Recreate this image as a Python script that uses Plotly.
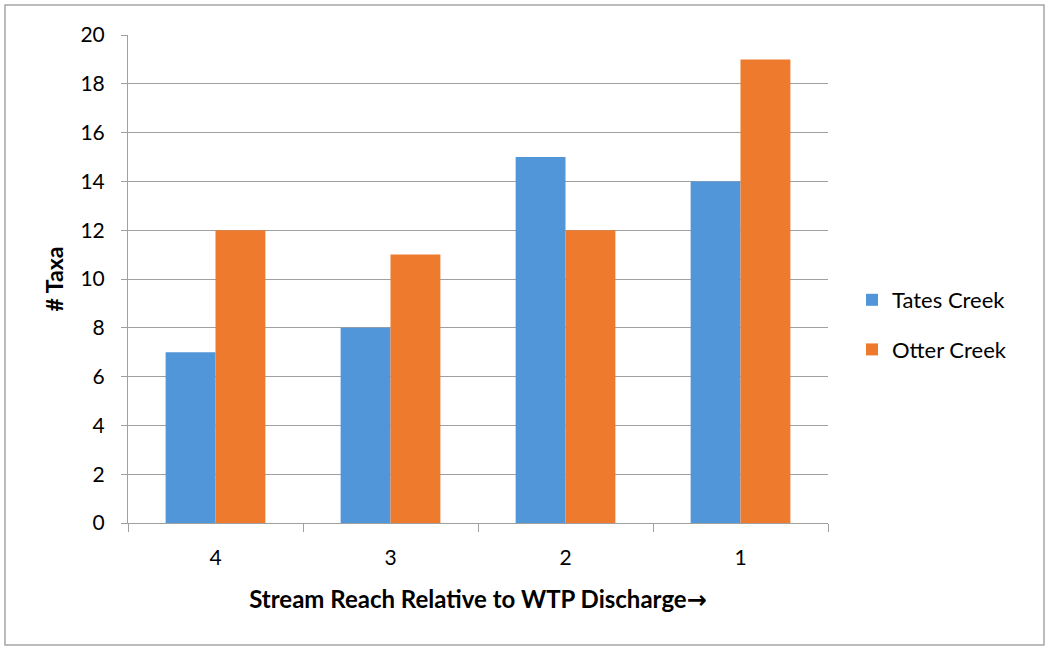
import plotly.graph_objects as go

categories = ["4", "3", "2", "1"]
tates_creek = [7, 8, 15, 14]
otter_creek = [12, 11, 12, 19]
y_ticks = [0, 2, 4, 6, 8, 10, 12, 14, 16, 18, 20]

W, H = 1047, 647
L, R, T, B = 128, 219, 35, 124
pw, ph = W - L - R, H - T - B

fig = go.Figure()
fig.add_trace(go.Bar(x=categories, y=tates_creek, name="Tates Creek", legendgroup="a",
                     marker=dict(color="#5096d9", line=dict(width=0))))
fig.add_trace(go.Bar(x=categories, y=otter_creek, name="Otter Creek", legendgroup="b",
                     marker=dict(color="#ee7a2e", line=dict(width=0))))

font = "Lato, Open Sans, sans-serif"
fig.update_layout(
    width=W, height=H,
    margin=dict(l=L, r=R, t=T, b=B),
    paper_bgcolor="white", plot_bgcolor="white",
    barmode="group", bargap=0.43, bargroupgap=0,
    font=dict(family=font, size=21, color="black"),
    legend=dict(x=(852 - L) / pw, y=(523 - 325) / ph, xanchor="left", yanchor="middle",
                font=dict(size=22), itemsizing="constant", tracegroupgap=18,
                traceorder="grouped", bgcolor="rgba(0,0,0,0)"),
    xaxis=dict(
        showline=True, linecolor="#a0a0a0", linewidth=1,
        ticks="outside", ticklen=8, tickcolor="#a0a0a0",
        tickson="boundaries", ticklabelstandoff=16,
        title=dict(text="<b>Stream Reach Relative to WTP Discharge<span style='font-family:DejaVu Sans'>→</span></b>",
                   font=dict(size=24), standoff=22),
        tickfont=dict(size=21),
    ),
    yaxis=dict(
        range=[0, 20], tickvals=y_ticks,
        showgrid=True, gridcolor="#a0a0a0", gridwidth=1,
        showline=True, linecolor="#a0a0a0", linewidth=1,
        ticks="outside", ticklen=6, tickcolor="#a0a0a0",
        ticklabelstandoff=12,
        title=dict(text="<b># Taxa</b>", font=dict(size=23), standoff=10),
        tickfont=dict(size=21), zeroline=False,
    ),
    shapes=[dict(type="rect", xref="paper", yref="paper",
                 x0=(5 - L) / pw, x1=(1044 - L) / pw,
                 y0=(H - 645 - B) / ph, y1=(H - 5 - B) / ph,
                 line=dict(color="#a6a6a6", width=1.5), fillcolor="rgba(0,0,0,0)",
                 layer="below")],
)

fig.write_html("out.html", config={"displayModeBar": False},
               post_script="document.body.style.margin='0';document.body.style.overflow='hidden';")
